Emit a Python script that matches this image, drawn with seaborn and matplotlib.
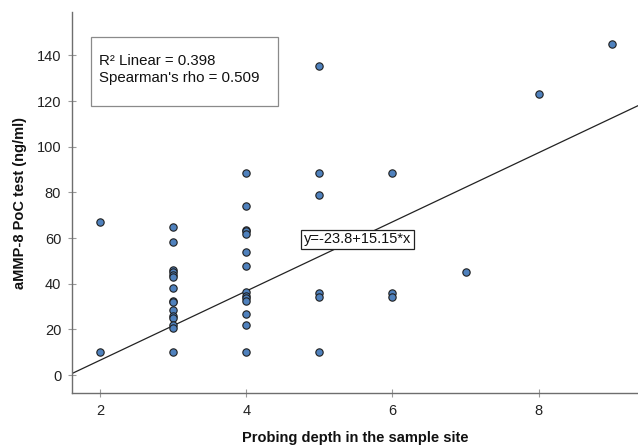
import matplotlib
matplotlib.use("Agg")
import matplotlib.pyplot as plt
from matplotlib.patches import Rectangle
import seaborn as sns
import numpy as np
import pandas as pd

# Data
depth_2 = [67, 10]
depth_3 = [65, 58.5, 46, 45, 44, 43, 38, 32.5, 32, 28.5, 26, 25, 22, 20.5, 10]
depth_4 = [88.5, 74, 63.5, 63, 62, 53.7, 48, 36.3, 34.8, 33.6, 32.5, 26.8, 22, 10]
depth_5 = [135.5, 88.5, 78.8, 36, 34, 10]
depth_6 = [88.5, 36, 34]
depth_7 = [45]
depth_8 = [123]
depth_9 = [145]

intercept = -23.8
slope = 15.15
r2_text = "R\u00b2 Linear = 0.398"
rho_text = "Spearman's rho = 0.509"
eq_text = "y=-23.8+15.15*x"
xlabel = "Probing depth in the sample site"
ylabel = "aMMP-8 PoC test (ng/ml)"
xticks = [2, 4, 6, 8]
yticks = [0, 20, 40, 60, 80, 100, 120, 140]

groups = {2: depth_2, 3: depth_3, 4: depth_4, 5: depth_5,
          6: depth_6, 7: depth_7, 8: depth_8, 9: depth_9}
df = pd.DataFrame([(k, v) for k, vals in groups.items() for v in vals],
                  columns=["depth", "ammp"])

sns.set_theme(style="white")
plt.rcParams['font.family'] = ['Liberation Sans', 'DejaVu Sans']

fig = plt.figure(figsize=(6.38, 4.48), dpi=100)
ax = fig.add_axes([0.1133, 0.122, 0.8867, 0.851])

xlim = (1.62, 9.36)
ylim = (-8.0, 159.0)

line_x = np.array(xlim)
line_df = pd.DataFrame({"x": line_x, "y": intercept + slope * line_x})
sns.lineplot(data=line_df, x="x", y="y", ax=ax, color="#222222", linewidth=0.9)

sns.scatterplot(data=df, x="depth", y="ammp", ax=ax, s=28, color="#4F81BD",
                edgecolor="#1f1f1f", linewidth=0.8, zorder=3)

ax.set_xlim(*xlim)
ax.set_ylim(*ylim)
ax.set_xticks(xticks)
ax.set_yticks(yticks)

for side in ["top", "right"]:
    ax.spines[side].set_visible(False)
for side in ["left", "bottom"]:
    ax.spines[side].set_color("#6e6e6e")
    ax.spines[side].set_linewidth(1.0)

ax.tick_params(axis="both", which="major", direction="inout", length=6,
               width=0.8, color="#9a9a9a", labelsize=10.5, labelcolor="#222222",
               pad=5, bottom=True, left=True)

ax.set_xlabel(xlabel, fontsize=10.5, fontweight="bold", labelpad=9, color="#111111")
ax.set_ylabel(ylabel, fontsize=10.5, fontweight="bold", labelpad=7, color="#111111")

# statistics box
ax.add_patch(Rectangle((0.033, 0.7535), 0.3306, 0.1805, transform=ax.transAxes,
                       facecolor="white", edgecolor="#8a8a8a", linewidth=0.9,
                       zorder=4))
ax.text(0.0472, 0.850, r2_text + "\n" + rho_text, transform=ax.transAxes,
        fontsize=10.8, color="#111111", va="center", ha="left", linespacing=1.25,
        zorder=5)

ax.text(4.79, 59.5, eq_text, fontsize=10.5, color="#111111", va="center", ha="left",
        bbox=dict(boxstyle="square,pad=0.18", facecolor="white",
                  edgecolor="#222222", linewidth=0.9), zorder=4)

fig.savefig("out.png", dpi=100)
